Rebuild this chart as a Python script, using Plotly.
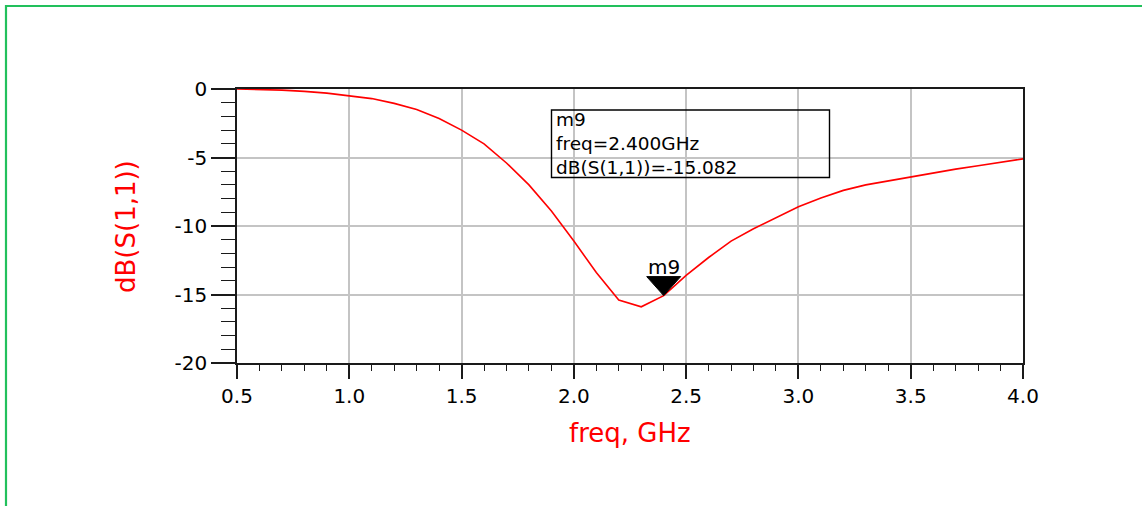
import plotly.graph_objects as go

# ---- data ----
freq_ghz = [0.5, 0.6, 0.7, 0.8, 0.9, 1.0, 1.1, 1.2, 1.3, 1.4, 1.5, 1.6, 1.7, 1.8,
            1.9, 2.0, 2.1, 2.2, 2.3, 2.4, 2.5, 2.6, 2.7, 2.8, 2.9, 3.0, 3.1, 3.2,
            3.3, 3.4, 3.5, 3.6, 3.7, 3.8, 3.9, 4.0]
s11_db = [0.0, -0.02, -0.08, -0.17, -0.3, -0.5, -0.7, -1.05, -1.5, -2.15, -3.0,
          -4.0, -5.4, -7.0, -8.9, -11.1, -13.4, -15.4, -15.9, -15.082, -13.6,
          -12.3, -11.1, -10.2, -9.4, -8.6, -7.95, -7.4, -7.0, -6.7, -6.4, -6.1,
          -5.85, -5.6, -5.35, -5.1]
x_ticks = [0.5, 1.0, 1.5, 2.0, 2.5, 3.0, 3.5, 4.0]
x_tick_labels = ["0.5", "1.0", "1.5", "2.0", "2.5", "3.0", "3.5", "4.0"]
y_ticks = [0, -5, -10, -15, -20]
y_tick_labels = ["0", "-5", "-10", "-15", "-20"]
marker_name = "m9"
marker_freq = 2.4
marker_val = -15.082
marker_lines = [marker_name, "freq=2.400GHz", "dB(S(1,1))=-15.082"]

FONT = "DejaVu Sans"
W, H = 1142, 506
L, R, T, B = 237, 1023, 89, 363  # plot area in pixels

def px_x(p):
    return (p - L) / (R - L)

def px_y(p):
    return (B - p) / (B - T)

fig = go.Figure()
fig.add_trace(go.Scatter(x=freq_ghz, y=s11_db, mode="lines",
                         line=dict(color="#ff0000", width=1.6),
                         hoverinfo="skip", showlegend=False))

axis_common = dict(showline=True, linecolor="#1a1a1a", linewidth=1.6, mirror=True,
                   ticks="outside", tickcolor="#1a1a1a", tickwidth=1.6,
                   showgrid=True, gridcolor="#c4c4c4", gridwidth=1.5,
                   zeroline=False,
                   tickfont=dict(family=FONT, size=20, color="#000000"))

fig.update_xaxes(range=[0.5, 4.0], tickvals=x_ticks, ticktext=x_tick_labels,
                 ticklen=14,
                 minor=dict(dtick=0.1, ticklen=6, ticks="outside", tickcolor="#1a1a1a",
                            tickwidth=1.4, showgrid=False),
                 **axis_common)
fig.update_yaxes(range=[-20, 0], tickvals=y_ticks, ticktext=y_tick_labels,
                 ticklen=24,
                 minor=dict(dtick=1, ticklen=14, ticks="outside", tickcolor="#1a1a1a",
                            tickwidth=1.4, showgrid=False),
                 **axis_common)

shapes = []
# green outer frame (runs off the right and bottom edges)
shapes.append(dict(type="rect", xref="paper", yref="paper",
                   x0=px_x(6), x1=px_x(1150), y0=px_y(514), y1=px_y(6),
                   line=dict(color="#22c05c", width=2.2), layer="below"))
# marker readout box
shapes.append(dict(type="rect", xref="paper", yref="paper",
                   x0=px_x(551.5), x1=px_x(829.5), y0=px_y(177.5), y1=px_y(110),
                   line=dict(color="#000000", width=1.4), fillcolor="rgba(0,0,0,0)"))
# inverted triangle marker with its tip on the data point
shapes.append(dict(type="path", xref="x", yref="y",
                   xsizemode="pixel", ysizemode="pixel",
                   xanchor=marker_freq, yanchor=marker_val,
                   path="M -17 19 L 17 19 L 0 0 Z",
                   fillcolor="#000000", line=dict(color="#000000", width=1)))

annotations = []
annotations.append(dict(text="<br>".join(marker_lines), xref="paper", yref="paper",
                        x=px_x(555), y=px_y(143.5), xanchor="left", yanchor="middle",
                        align="left", showarrow=False, borderpad=0,
                        font=dict(family=FONT, size=18.5, color="#000000")))
annotations.append(dict(text=marker_name, xref="x", yref="y", x=marker_freq, y=marker_val,
                        xanchor="center", yanchor="middle", yshift=29, showarrow=False,
                        font=dict(family=FONT, size=20, color="#000000")))
# axis titles
annotations.append(dict(text="freq, GHz", xref="paper", yref="paper",
                        x=0.5, y=px_y(433), xanchor="center", yanchor="middle",
                        showarrow=False,
                        font=dict(family=FONT, size=26, color="#ff0000")))
annotations.append(dict(text="dB(S(1,1))", xref="paper", yref="paper",
                        x=px_x(126), y=0.5, xanchor="center", yanchor="middle",
                        textangle=-90, showarrow=False,
                        font=dict(family=FONT, size=26, color="#ff0000")))

fig.update_layout(width=W, height=H,
                  margin=dict(l=L, r=W - R, t=T, b=H - B, autoexpand=False),
                  paper_bgcolor="#ffffff", plot_bgcolor="#ffffff",
                  shapes=shapes, annotations=annotations, showlegend=False)

fig.write_html("out.html", config={"displayModeBar": False},
               post_script="document.body.style.margin='0';document.body.style.overflow='hidden';")
